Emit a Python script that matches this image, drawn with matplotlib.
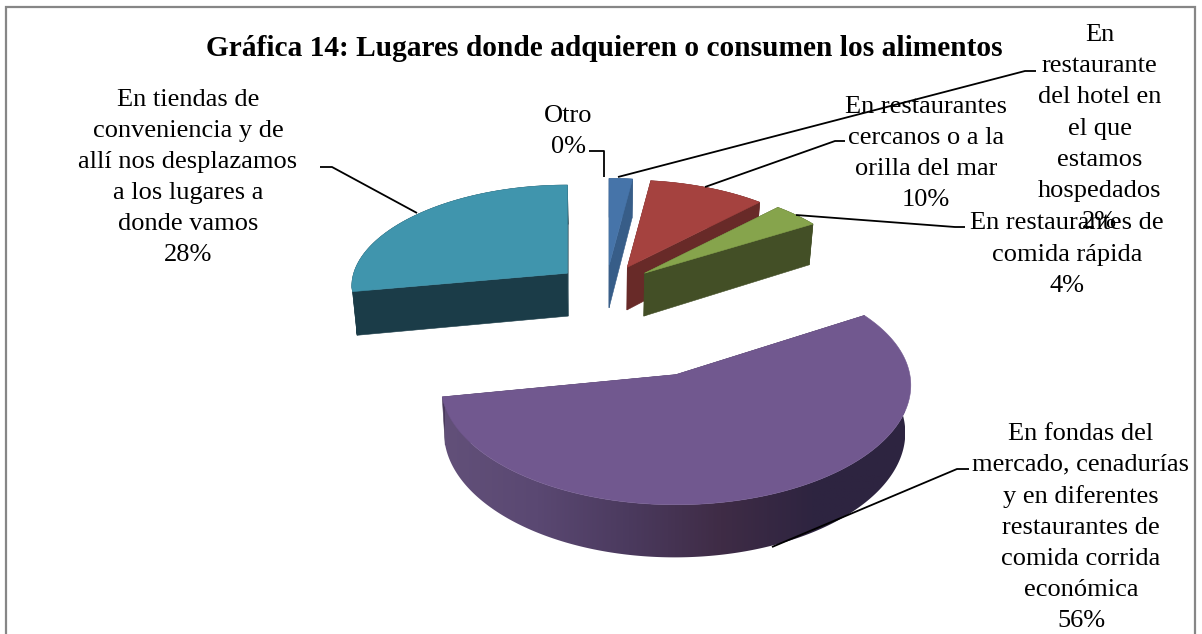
import numpy as np
import matplotlib
matplotlib.use("Agg")
import matplotlib.pyplot as plt
from matplotlib.patches import Polygon, Rectangle
from matplotlib.colors import LinearSegmentedColormap

# Survey shares, in percent, clockwise from twelve o'clock
categories = [
    "Otro",
    "En\nrestaurante\ndel hotel en\nel que\nestamos\nhospedados",
    "En restaurantes\ncercanos o a la\norilla del mar",
    "En restaurantes de\ncomida rápida",
    "En fondas del\nmercado, cenadurías\ny en diferentes\nrestaurantes de\ncomida corrida\neconómica",
    "En tiendas de\nconveniencia y de\nallí nos desplazamos\na los lugares a\ndonde vamos",
]
values = [0, 2, 10, 4, 56, 28]
title = "Gráfica 14: Lugares donde adquieren o consumen los alimentos"

# Styling per slice
explode = [0, 50, 50, 50, 190, 50]
top_colors = ["#4674a9", "#4674a9", "#a5423f", "#86a44c", "#71588f", "#4095ad"]
wall_colors = ["#375d88", "#375d88", "#682a28", "#434f26", "#4a3a5c", "#1b3c48"]
purple_ramp = ["#625079", "#5a4872", "#4b3a5e", "#3f2c46", "#2e2440", "#2d2440"]
label_pos = [(568, 131.5), (1099.5, 128.5), (926, 153.5), (1067, 254.5), (1081, 527.5), (188, 177.5)]
leaders = [
    [(589, 151), (604, 151), (604, 177)],
    [(618, 177), (1025, 71), (1036, 71)],
    [(705, 187), (835, 141), (845, 141)],
    [(796, 215), (955, 227), (965, 227)],
    [(772, 547), (957, 469), (969, 469)],
    [(417, 213), (332, 167), (320, 167)],
]

# Pie geometry and the camera used to flatten it
RADIUS = 218
CX, CY = 606, 287.5
DEPTH_BACK, DEPTH_FRONT, DEPTH_Y, STRETCH_Y = 1600, 2600, 2276, 1035.6
THICK = 43.5
BOTTOM_SHRINK = 0.982


def project(px, py, ox, z=0.0):
    """Map pie-plane coordinates (py towards the viewer) to canvas pixels."""
    depth = np.where(py < 0, DEPTH_BACK, DEPTH_FRONT)
    sx = depth / (depth - py)
    sy = DEPTH_Y / (DEPTH_Y - py)
    x = CX + (ox + (px - ox) * sx) * (1 - (1 - BOTTOM_SHRINK) * z)
    y = CY + STRETCH_Y * py / (DEPTH_Y - py) + z * THICK * sy
    return np.column_stack([x, y])


fig = plt.figure(figsize=(12.02, 6.34), dpi=100)
ax = fig.add_axes([0, 0, 1, 1])
ax.axis("off")
ax.add_patch(Rectangle((6, 7), 1189, 640, fc="white", ec="#868686", lw=1.6, zorder=0))

fractions = np.array(values, dtype=float) / sum(values)
edges = np.concatenate([[0], np.cumsum(fractions)]) * 2 * np.pi
ramp_cmap = LinearSegmentedColormap.from_list("wall_ramp", purple_ramp)

draw_order = [1, 2, 3, 5, 4]
for z_base, i in enumerate(draw_order):
    a0, a1 = edges[i], edges[i + 1]
    mid = (a0 + a1) / 2
    ox, oy = explode[i] * np.sin(mid), -explode[i] * np.cos(mid)
    theta = np.linspace(a0, a1, max(int(np.degrees(a1 - a0)), 3) * 2)
    rim_x = ox + RADIUS * np.sin(theta)
    rim_y = oy - RADIUS * np.cos(theta)
    z = 2 + z_base * 3

    # cut faces between the centre and both ends of the arc
    for k in (0, -1):
        xs = np.array([ox, rim_x[k]])
        ys = np.array([oy, rim_y[k]])
        face = np.vstack([project(xs, ys, ox), project(xs, ys, ox, 1)[::-1]])
        ax.add_patch(Polygon(face, fc=wall_colors[i], ec=wall_colors[i], lw=0.4, zorder=z))

    # outer wall; the large slice carries a left-to-right shade ramp
    wall = np.vstack([project(rim_x, rim_y, ox), project(rim_x, rim_y, ox, 1)[::-1]])
    if i == 4:
        patch = Polygon(wall, fc="none", ec="none", zorder=z + 1)
        ax.add_patch(patch)
        img = ax.imshow(np.linspace(0, 1, 256)[None, :], cmap=ramp_cmap, aspect="auto",
                        extent=(445, 905, 570, 380), zorder=z + 1)
        img.set_clip_path(patch)
    else:
        ax.add_patch(Polygon(wall, fc=wall_colors[i], ec=wall_colors[i], lw=0.4, zorder=z + 1))

    # top surface
    top = project(np.r_[ox, rim_x], np.r_[oy, rim_y], ox)
    ax.add_patch(Polygon(top, fc=top_colors[i], ec=top_colors[i], lw=0.4, zorder=z + 2))

ax.set_xlim(0, 1202)
ax.set_ylim(634, 0)

serif = "Liberation Serif"
ax.text(604, 49, title, family=serif, weight="bold", fontsize=21.2,
        ha="center", va="center", zorder=40)

for name, val, pos, path in zip(categories, values, label_pos, leaders):
    ax.text(pos[0], pos[1], f"{name}\n{val}%", family=serif, fontsize=19,
            ha="center", va="center", linespacing=1.53, zorder=40)
    xs, ys = zip(*path)
    ax.plot(xs, ys, color="black", lw=1.3, zorder=30, solid_capstyle="butt")

fig.savefig("out.png", dpi=100)
